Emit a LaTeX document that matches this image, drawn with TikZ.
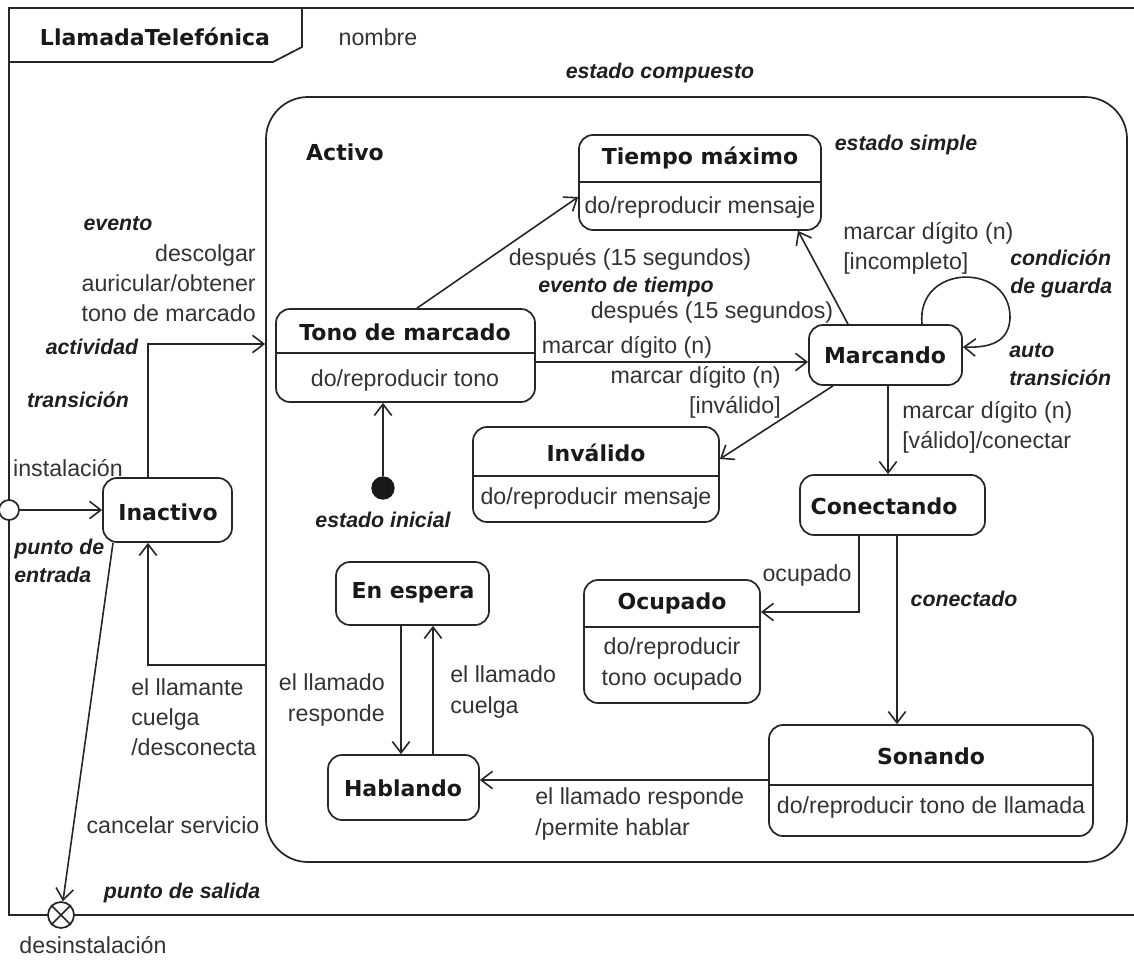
\documentclass[tikz,border=0pt]{standalone}
\usepackage{fontspec}
\setmainfont{Liberation Sans}
\newfontfamily\djv{DejaVu Sans}
\usetikzlibrary{arrows.meta,fit}

\newcommand\lblfont{\fontsize{17.4}{22.6}\selectfont}
\newcommand\ttlfont{\djv\bfseries\fontsize{16.5}{20}\selectfont}
\newcommand\annfont{\bfseries\itshape\fontsize{16}{21}\selectfont}

\tikzset{
  lbl/.style={font=\lblfont, text=black!80, inner sep=0pt},
  ann/.style={font=\annfont, text=black!88, inner sep=0pt},
  ttl/.style={font=\ttlfont, text=black!90, inner sep=0pt},
  sline/.style={line width=1.3pt, draw=black!85},
  stbox/.style={sline, draw, rounded corners=10.5pt, inner sep=0pt},
  tr/.style={line width=1.2pt, draw=black!85,
    -{Straight Barb[length=8.5pt,width=13pt,line width=1.2pt]}},
}

\begin{document}
\begin{tikzpicture}[x=0.75pt,y=-0.75pt]
\useasboundingbox (0,0) rectangle (1134,963);

% outer frame with its name tab
\draw[sline] (1134,8) -- (9,8) -- (9,915) -- (1134,915);
\draw[sline] (9,62) -- (273,62) -- (302,47) -- (302,8);
\node[ttl] (fname) at (155,37) {LlamadaTelefónica};
\node[lbl] (nombre) at (378,37) {nombre};

% composite state
\node[sline, draw, rounded corners=31.5pt, inner sep=0pt, fit={(266,97) (1127,862)}] (act) {};
\node[ttl] (actname) at (345,152) {Activo};
\node[ann] (ecomp) at (660,73) {estado compuesto};
\node[ann] (esimple) at (906,145) {estado simple};

% helper heights for compartment lines and connectors
\coordinate (d1) at (0,182);
\coordinate (d2) at (0,353);
\coordinate (d3) at (0,476);
\coordinate (d4) at (0,627);
\coordinate (d5) at (0,785);

% states
\node[stbox, fit={(579,135) (821,230)}] (tmax) {};
\draw[sline] (tmax.west |- d1) -- (tmax.east |- d1);
\node[ttl] (tmaxt) at (700,158) {Tiempo máximo};
\node[lbl] (tmaxb) at (700,208) {do/reproducir mensaje};

\node[stbox, fit={(276,309) (535,402)}] (tono) {};
\draw[sline] (tono.west |- d2) -- (tono.east |- d2);
\node[ttl] (tonot) at (405,332) {Tono de marcado};
\node[lbl] (tonob) at (405,380) {do/reproducir tono};

\node[stbox, fit={(809,325) (962,385)}] (mar) {};
\node[ttl] (mart) at (885,355) {Marcando};

\node[stbox, fit={(473,427) (719,522)}] (inv) {};
\draw[sline] (inv.west |- d3) -- (inv.east |- d3);
\node[ttl] (invt) at (596,453) {Inválido};
\node[lbl] (invb) at (596,498) {do/reproducir mensaje};

\node[stbox, fit={(800,475) (985,535)}] (con) {};
\node[ttl] (cont) at (884,506) {Conectando};

\node[stbox, fit={(584,580) (760,703)}] (ocu) {};
\draw[sline] (ocu.west |- d4) -- (ocu.east |- d4);
\node[ttl] (ocut) at (672,603) {Ocupado};
\node[lbl, align=center] (ocub) at (672,664) {do/reproducir\\tono ocupado};

\node[stbox, fit={(336,562) (489,625)}] (esp) {};
\node[ttl] (espt) at (413,593) {En espera};
\node[stbox, fit={(328,755) (479,820)}] (hab) {};
\node[ttl] (habt) at (403,788) {Hablando};

\node[stbox, fit={(769,725) (1093,836)}] (son) {};
\draw[sline] (son.west |- d5) -- (son.east |- d5);
\node[ttl] (sont) at (931,756) {Sonando};
\node[lbl] (sonb) at (931,807) {do/reproducir tono de llamada};

\node[stbox, fit={(103,478) (232,542)}] (inac) {};
\node[ttl] (inact) at (168,512) {Inactivo};

% pseudo states
\node[sline, draw, circle, fill=white, minimum size=15pt, inner sep=0pt] (entry) at (9,510) {};
\node[sline, draw, circle, fill=white, minimum size=19.5pt, inner sep=0pt] (exit) at (61,915) {};
\draw[sline] (exit.north west) -- (exit.south east);
\draw[sline] (exit.north east) -- (exit.south west);
\node[circle, fill=black!90, minimum size=17.5pt, inner sep=0pt] (init) at (383,488) {};

% connector guide points
\coordinate (xa) at (148,0);
\coordinate (ya) at (0,344);
\coordinate (yb) at (0,665);
\coordinate (xc) at (113,0);
\coordinate (xd) at (417,0);
\coordinate (yd) at (0,197);
\coordinate (xe) at (848,0);
\coordinate (xf) at (798,0);
\coordinate (yg) at (0,362);
\coordinate (xh) at (833,0);
\coordinate (yh) at (0,459);
\coordinate (xi) at (922,0);
\coordinate (yi) at (0,347);
\coordinate (xj) at (888,0);
\coordinate (xk) at (859,0);
\coordinate (yk) at (0,612);
\coordinate (xl) at (897,0);
\coordinate (ym) at (0,780);
\coordinate (xn) at (401,0);
\coordinate (xo) at (433,0);

% transitions
\draw[tr] (entry.east) -- (inac.west |- entry);
\draw[tr] (inac.north -| xa) |- (act.west |- ya);
\draw[tr] (act.west |- yb) -| (inac.south -| xa);
\draw[tr] (inac.south -| xc) -- (exit);
\draw[tr] (init) -- (tono.south -| init);
\draw[tr] (tono.north -| xd) -- (tmax.west |- yd);
\draw[tr] (mar.north -| xe) -- (tmax.south -| xf);
\draw[tr] (tono.east |- yg) -- (mar.west |- yg);
\draw[tr] (mar.south -| xh) -- (inv.east |- yh);
\draw[tr] (mar.north -| xi) .. controls (916,263) and (1011,262) .. (1010,318)
  .. controls (1009,342) and (990,348) .. (mar.east |- yi);
\draw[tr] (mar.south -| xj) -- (con.north -| xj);
\draw[tr] (con.south -| xk) |- (ocu.east |- yk);
\draw[tr] (con.south -| xl) -- (son.north -| xl);
\draw[tr] (son.west |- ym) -- (hab.east |- ym);
\draw[tr] (esp.south -| xn) -- (hab.north -| xn);
\draw[tr] (hab.north -| xo) -- (esp.south -| xo);

% labels
\node[ann] (levento) at (118,224) {evento};
\node[lbl, align=right, anchor=east] (ldesc) at (256,283) {descolgar\\auricular/obtener\\tono de marcado};
\node[ann] (lactiv) at (92,347) {actividad};
\node[ann] (ltrans) at (78,400) {transición};
\node[lbl] (linst) at (68,468) {instalación};
\node[ann, align=left, anchor=west] (lentr) at (14,561) {punto de\\entrada};
\node[lbl] (ldesp1) at (630,259) {después (15 segundos)};
\node[ann] (letiempo) at (626,287) {evento de tiempo};
\node[lbl] (ldesp2) at (712,312) {después (15 segundos)};
\node[lbl] (lmarc1) at (627,347) {marcar dígito (n)};
\node[lbl, align=right, anchor=east] (lmarc2) at (781,392) {marcar dígito (n)\\{[inválido]}};
\node[lbl, align=left, anchor=west] (lmarc3) at (843,248) {marcar dígito (n)\\{[incompleto]}};
\node[ann, align=left, anchor=west] (lguard) at (1010,274) {condición\\de guarda};
\node[ann, align=left, anchor=west] (lauto) at (1009,365) {auto\\transición};
\node[lbl, align=left, anchor=west] (lmarc4) at (902,427) {marcar dígito (n)\\{[válido]}/conectar};
\node[ann] (linit) at (383,520) {estado inicial};
\node[lbl] (locup) at (807,575) {ocupado};
\node[ann] (lconec) at (964,599) {conectado};
\node[lbl, align=left, anchor=west] (lcuelga) at (131,717) {el llamante\\cuelga\\/desconecta};
\node[lbl, align=right, anchor=east] (lresp) at (385,700) {el llamado\\responde};
\node[lbl, align=left, anchor=west] (lcuelga2) at (450,692) {el llamado\\cuelga};
\node[lbl, align=left, anchor=west] (lperm) at (535,814) {el llamado responde\\/permite hablar};
\node[lbl] (lcanc) at (173,825) {cancelar servicio};
\node[ann] (lsal) at (182,893) {punto de salida};
\node[lbl] (ldesin) at (93,945) {desinstalación};
\end{tikzpicture}
\end{document}
